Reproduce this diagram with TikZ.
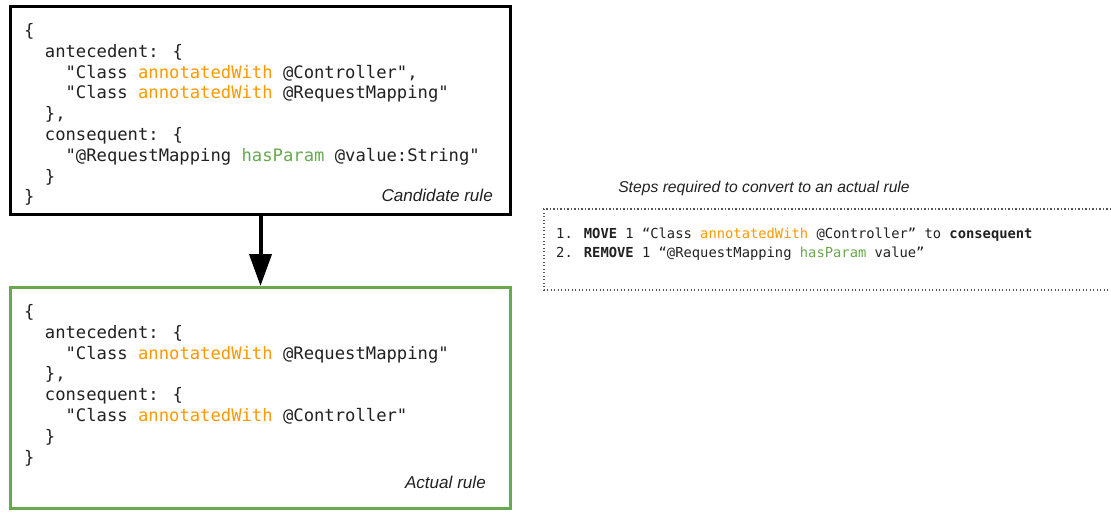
\documentclass[tikz,border=0pt]{standalone}
\usepackage{fontspec}
\usetikzlibrary{arrows.meta}
\newfontfamily\codefont{DejaVu Sans Mono}
\newfontfamily\labelfont{Liberation Sans}
\definecolor{ink}{HTML}{212121}
\definecolor{kworange}{HTML}{FF9900}
\definecolor{kwgreen}{HTML}{6AA84F}
\definecolor{dotgray}{HTML}{555555}
\newcommand\ann[1]{\textcolor{kworange}{#1}}
\newcommand\prm[1]{\textcolor{kwgreen}{#1}}
\newcommand\dq{\symbol{34}}
\tikzset{
  rulebox/.style={draw, line width=3pt, inner sep=0pt, fill=white},
  code/.style={anchor=base west, inner sep=0pt, text=ink,
    font=\codefont\fontsize{17.2}{20}\selectfont},
  stepcode/.style={anchor=base west, inner sep=0pt, text=ink,
    font=\codefont\fontsize{13.8}{16}\selectfont},
  caption/.style={anchor=base east, inner sep=0pt, text=ink,
    font=\labelfont\itshape\fontsize{17.1}{20}\selectfont},
  flow/.style={line width=4pt, -{Triangle[width=22pt,length=32pt]}},
  dotline/.style={draw=dotgray, line width=1.3pt, dash pattern=on 1.2pt off 2.3pt}
}
\begin{document}
\begin{tikzpicture}[x=1pt,y=-1pt]
\useasboundingbox (0,0) rectangle (1111,512);

% the two rule boxes
\node[rulebox, draw=black, minimum width=500pt, minimum height=208pt] (cand) at (260.5,110.5) {};
\node[rulebox, draw=kwgreen, minimum width=500pt, minimum height=221pt] (act) at (260.5,398) {};

% candidate rule
\node[code] (c1) at (24,36.5) {\{};
\node[code] (c2) at (44.7,57.3) {antecedent: \{};
\node[code] (c3) at (65.4,78.1) {\dq Class \ann{annotatedWith} @Controller\dq,};
\node[code] (c4) at (65.4,98.9) {\dq Class \ann{annotatedWith} @RequestMapping\dq};
\node[code] (c5) at (44.7,119.7) {\},};
\node[code] (c6) at (44.7,140.5) {consequent: \{};
\node[code] (c7) at (65.4,161.3) {\dq @RequestMapping \prm{hasParam} @value:String\dq};
\node[code] (c8) at (44.7,182.1) {\}};
\node[code] (c9) at (24,202.9) {\}};
\node[caption] (candlabel) at (493,201) {Candidate rule};

% actual rule
\node[code] (a1) at (24,317.5) {\{};
\node[code] (a2) at (44.7,338.3) {antecedent: \{};
\node[code] (a3) at (65.4,359.1) {\dq Class \ann{annotatedWith} @RequestMapping\dq};
\node[code] (a4) at (44.7,379.9) {\},};
\node[code] (a5) at (44.7,400.7) {consequent: \{};
\node[code] (a6) at (65.4,421.5) {\dq Class \ann{annotatedWith} @Controller\dq};
\node[code] (a7) at (44.7,442.3) {\}};
\node[code] (a8) at (24,463.1) {\}};
\node[caption] (actlabel) at (486,488) {Actual rule};

% conversion arrow
\draw[flow] (cand.south) -- (act.north);

% steps panel
\node[anchor=base, inner sep=0pt, text=ink, font=\labelfont\itshape\fontsize{15.7}{18}\selectfont]
  (stepstitle) at (764,192.5) {Steps required to convert to an actual rule};
\node[minimum width=567pt, minimum height=81pt, inner sep=0pt, outer sep=0pt] (steps) at (827.5,249.5) {};
\draw[dotline] (steps.north east) -- (steps.north west) -- (steps.south west) -- (steps.south east);
\node[stepcode] (s1) at (556,238.5) {1. \textbf{MOVE} 1 “Class \ann{annotatedWith} @Controller” to \textbf{consequent}};
\node[stepcode] (s2) at (556,257.5) {2. \textbf{REMOVE} 1 “@RequestMapping \prm{hasParam} value”};
\end{tikzpicture}
\end{document}
